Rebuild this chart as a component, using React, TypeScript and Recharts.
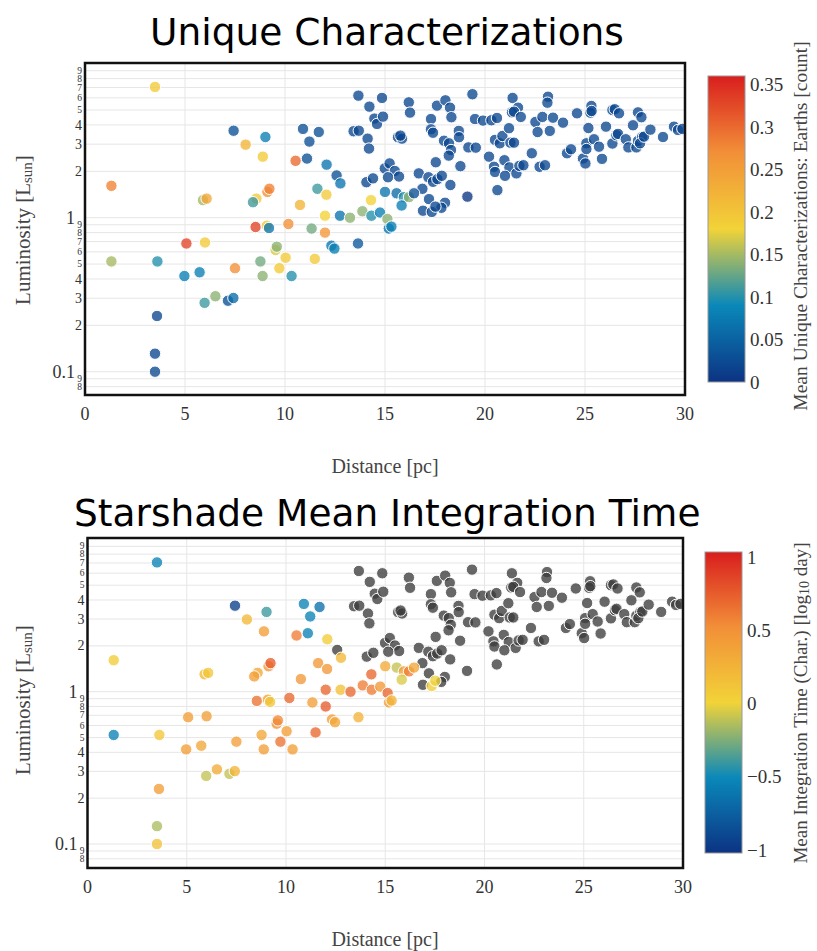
import React from 'react';
import { CartesianGrid, Scatter, ScatterChart, XAxis, YAxis } from 'recharts';

// Stars with a characterization result: distance [pc], luminosity [L_sun],
// mean unique characterizations [count], mean integration time [log10 day].
const charDist = [
  3.5, 1.32, 1.32, 3.62, 3.6, 3.5, 3.5, 4.97, 5.73, 5.07,
  6.0, 5.9, 6.08, 5.98, 6.52, 7.15, 7.42, 7.43, 7.5, 8.03,
  9.02, 8.89, 8.57, 8.4, 9.12, 9.22, 8.53, 9.09, 9.2, 8.77,
  8.88, 9.53, 9.59, 10.03, 9.72, 10.33, 10.17, 10.53, 10.75, 10.9,
  11.22, 11.69, 11.1, 11.33, 11.49, 12.0, 12.0, 11.62, 12.07, 12.08,
  12.77, 12.32, 12.47, 12.75, 13.25, 13.65, 13.87, 14.3, 14.32, 14.75,
  15.0, 15.58, 15.94, 16.2, 16.45, 15.83, 15.12, 15.19, 15.32, 17.34,
  17.52,
];
const charLum = [
  7.06, 1.61, 0.52, 0.52, 0.23, 0.131, 0.1, 0.418, 0.442, 0.68,
  0.69, 1.3, 1.33, 0.28, 0.309, 0.289, 0.301, 3.67, 0.47, 2.98,
  3.34, 2.49, 1.33, 1.26, 1.47, 1.54, 0.87, 0.887, 0.857, 0.52,
  0.418, 0.617, 0.648, 0.55, 0.47, 0.418, 0.91, 2.34, 1.21, 3.77,
  3.12, 3.6, 2.42, 0.85, 0.54, 0.8, 1.03, 1.54, 1.41, 2.21,
  1.67, 0.658, 0.63, 1.03, 1.0, 0.68, 1.1, 1.3, 1.03, 1.08,
  1.47, 1.44, 1.36, 1.36, 1.44, 1.2, 0.98, 0.85, 0.875, 1.09,
  1.18,
];
const charUnique = [
  0.19, 0.28, 0.15, 0.1, 0.02, 0.02, 0.02, 0.08, 0.08, 0.33,
  0.19, 0.15, 0.24, 0.11, 0.14, 0.03, 0.06, 0.03, 0.27, 0.22,
  0.08, 0.19, 0.19, 0.11, 0.27, 0.28, 0.33, 0.19, 0.07, 0.13,
  0.14, 0.17, 0.14, 0.19, 0.19, 0.1, 0.27, 0.3, 0.22, 0.03,
  0.03, 0.03, 0.03, 0.13, 0.19, 0.26, 0.18, 0.11, 0.19, 0.07,
  0.07, 0.07, 0.08, 0.07, 0.14, 0.04, 0.14, 0.18, 0.1, 0.08,
  0.07, 0.06, 0.1, 0.14, 0.03, 0.08, 0.14, 0.07, 0.08, 0.02,
  0.02,
];
const charTime = [
  -0.55, 0.05, -0.55, 0.1, 0.4, -0.15, 0.15, 0.4, 0.35, 0.4,
  0.4, 0.2, 0.1, -0.1, 0.3, -0.1, 0.25, -0.95, 0.4, 0.2,
  -0.4, 0.4, 0.35, 0.4, 0.45, 0.75, 0.65, 0.35, 0.1, 0.35,
  0.4, 0.5, 0.55, 0.4, 0.65, 0.4, 0.7, 0.6, 0.45, -0.55,
  -0.55, -0.65, -0.55, 0.4, 0.7, 0.75, 0.7, 0.45, 0.45, 0.05,
  0.2, 0.4, 0.35, 0.15, 0.7, 0.25, 0.6, 0.7, 0.6, 0.45,
  0.3, -0.1, 0.4, 0.6, 0.35, -0.05, 0.7, 0.4, 0.25, 0.05,
  0.0,
];

// Stars never characterized (no integration time).
const otherDist = [
  12.58, 13.67, 14.22, 14.47, 14.6, 13.43, 13.69, 14.13, 14.2, 14.07,
  14.4, 14.85, 14.9, 15.65, 15.85, 15.77, 16.19, 16.25, 17.3, 17.6,
  18.02, 18.25, 18.32, 17.3, 17.4, 17.95, 18.2, 18.3, 18.19, 18.69,
  18.7, 19.37, 19.5, 19.9, 20.32, 20.6, 19.17, 19.54, 19.12, 18.77,
  17.54, 16.69, 17.17, 17.4, 17.62, 17.84, 18.27, 16.87, 17.2, 16.9,
  18.0, 17.82, 14.99, 15.23, 15.49, 15.7, 15.15, 20.2, 20.5, 20.74,
  20.87, 21.2, 21.27, 21.45, 20.45, 20.5, 20.97, 21.22, 21.0, 21.57,
  21.72, 21.92, 20.62, 21.38, 21.65, 21.35, 21.45, 21.79, 22.52, 22.87,
  23.4, 23.9, 23.15, 23.12, 22.63, 23.24, 22.34, 22.73, 23.0, 24.6,
  25.32, 25.27, 25.33, 25.17, 24.1, 24.3, 24.9, 25.02, 25.07, 25.07,
  25.45, 25.7, 25.85, 26.05, 26.37, 26.57, 26.65, 26.37, 26.49, 26.7,
  27.04, 27.17, 27.57, 27.65, 27.85, 27.75, 27.4, 27.95, 27.65, 27.82,
  28.27, 28.9, 29.45, 29.65, 29.87,
];
const otherLum = [
  1.88, 6.2, 5.26, 4.4, 4.06, 3.64, 3.67, 3.26, 2.81, 1.7,
  1.8, 5.99, 4.53, 3.33, 3.26, 3.41, 5.61, 4.81, 4.37, 5.34,
  5.78, 5.18, 4.49, 3.75, 3.56, 3.16, 3.04, 2.75, 2.53, 3.66,
  3.33, 6.33, 4.37, 4.27, 4.29, 4.44, 2.86, 2.85, 1.37, 2.16,
  2.29, 1.94, 1.83, 1.71, 1.78, 1.87, 1.63, 1.54, 1.32, 1.11,
  1.25, 1.16, 2.09, 2.25, 2.01, 1.85, 1.83, 2.49, 3.2, 3.04,
  3.39, 3.81, 3.07, 3.07, 2.14, 1.98, 2.36, 2.12, 1.87, 1.94,
  2.17, 2.19, 1.51, 5.99, 5.18, 4.83, 4.88, 4.51, 4.18, 4.51,
  4.46, 4.14, 6.1, 5.58, 3.6, 3.66, 2.62, 2.14, 2.19, 4.76,
  5.31, 4.81, 4.93, 3.82, 2.62, 2.78, 2.42, 2.25, 3.04, 2.79,
  3.23, 2.89, 2.41, 3.9, 3.03, 3.43, 3.5, 5.0, 5.06, 4.76,
  3.23, 2.86, 2.86, 3.15, 3.33, 3.04, 3.98, 3.36, 4.83, 4.49,
  3.73, 3.34, 3.9, 3.71, 3.77,
];
const otherUnique = [
  0.03, 0.02, 0.02, 0.02, 0.02, 0.02, 0.02, 0.02, 0.02, 0.02,
  0.02, 0.02, 0.02, 0.02, 0.02, 0.02, 0.02, 0.02, 0.02, 0.02,
  0.02, 0.02, 0.02, 0.02, 0.02, 0.02, 0.02, 0.02, 0.02, 0.02,
  0.02, 0.02, 0.02, 0.02, 0.02, 0.02, 0.02, 0.02, 0.0, 0.02,
  0.02, 0.02, 0.02, 0.02, 0.02, 0.02, 0.02, 0.02, 0.02, 0.02,
  0.02, 0.02, 0.02, 0.02, 0.02, 0.02, 0.02, 0.02, 0.02, 0.02,
  0.02, 0.02, 0.02, 0.02, 0.02, 0.02, 0.02, 0.02, 0.02, 0.02,
  0.02, 0.02, 0.02, 0.02, 0.02, 0.02, 0.02, 0.02, 0.02, 0.02,
  0.02, 0.02, 0.02, 0.02, 0.02, 0.02, 0.02, 0.02, 0.02, 0.02,
  0.02, 0.02, 0.02, 0.02, 0.02, 0.02, 0.02, 0.02, 0.02, 0.02,
  0.02, 0.02, 0.02, 0.02, 0.02, 0.02, 0.02, 0.02, 0.02, 0.02,
  0.02, 0.02, 0.02, 0.02, 0.02, 0.02, 0.02, 0.02, 0.02, 0.02,
  0.02, 0.02, 0.02, 0.02, 0.02,
];

const X_TICKS = [0, 5, 10, 15, 20, 25, 30];
const Y_TICKS = [
  0.08, 0.09, 0.1, 0.2, 0.3, 0.4, 0.5, 0.6, 0.7, 0.8, 0.9,
  1, 2, 3, 4, 5, 6, 7, 8, 9,
];
const UNIQUE_TICKS = [0, 0.05, 0.1, 0.15, 0.2, 0.25, 0.3, 0.35];
const TIME_TICKS = [-1, -0.5, 0, 0.5, 1];

const PORTLAND: [number, string][] = [
  [0, '#0c3383'],
  [0.25, '#0a88ba'],
  [0.5, '#f2d338'],
  [0.75, '#f28f38'],
  [1, '#d91e1e'],
];

const SERIF = '"Liberation Serif", "Times New Roman", serif';
const SANS = '"DejaVu Sans", Verdana, sans-serif';
const PAGE_W = 817;
const Y_AXIS_W = 60;
const X_AXIS_H = 40;

type Star = { dist: number; lum: number; value: number | null };

function rgb(hex: string) {
  const n = parseInt(hex.slice(1), 16);
  return [(n >> 16) & 255, (n >> 8) & 255, n & 255];
}

function portland(t: number) {
  const c = Math.max(0, Math.min(1, t));
  for (let i = 1; i < PORTLAND.length; i++) {
    const [t1, h1] = PORTLAND[i];
    if (c <= t1) {
      const [t0, h0] = PORTLAND[i - 1];
      const f = (c - t0) / (t1 - t0);
      const a = rgb(h0);
      const b = rgb(h1);
      return `rgb(${a.map((v, k) => Math.round(v + (b[k] - v) * f)).join(',')})`;
    }
  }
  return PORTLAND[PORTLAND.length - 1][1];
}

const charUniqueStars: Star[] = charDist.map((d, i) => ({ dist: d, lum: charLum[i], value: charUnique[i] }));
const otherUniqueStars: Star[] = otherDist.map((d, i) => ({ dist: d, lum: otherLum[i], value: otherUnique[i] }));
const charTimeStars: Star[] = charDist.map((d, i) => ({ dist: d, lum: charLum[i], value: charTime[i] }));
const otherTimeStars: Star[] = otherDist.map((d, i) => ({ dist: d, lum: otherLum[i], value: null }));

interface PanelProps {
  top: number;
  title: string;
  titleY: number;
  plot: { left: number; top: number; right: number; bottom: number };
  yDomain: [number, number];
  lumLabelY: number;
  series: Star[][];
  cbar: { x: number; top: number; bottom: number; min: number; max: number; ticks: number[] };
  cbarTitleY: number;
  cbarTitleSize: number;
  cbarTitle: React.ReactNode;
  id: string;
}

function tickText(v: number) {
  const e = Math.floor(Math.log10(v) + 1e-9);
  const lead = Math.round(v / Math.pow(10, e));
  return { lead, major: lead === 1 };
}

function Panel({
  top, title, titleY, plot, yDomain, lumLabelY, series, cbar, cbarTitleY, cbarTitleSize, cbarTitle, id,
}: PanelProps) {
  const height = plot.bottom + 90;
  const cmin = cbar.min;
  const cmax = cbar.max;
  const cy = (v: number) => cbar.bottom - ((v - cmin) / (cmax - cmin)) * (cbar.bottom - cbar.top);

  const renderDot = (props: any) => {
    const { cx, cy: py, payload } = props;
    if (cx == null || py == null) return <g />;
    const fill = payload.value == null ? '#3c3c3c' : portland((payload.value - cmin) / (cmax - cmin));
    return <circle cx={cx} cy={py} r={5.7} fill={fill} fillOpacity={0.78} stroke="#ffffff" strokeWidth={1} />;
  };

  const renderYTick = (props: any) => {
    const { y, payload } = props;
    const { lead, major } = tickText(payload.value);
    if (major) {
      return (
        <text x={plot.left - 10} y={y} dy="0.35em" textAnchor="end" fontFamily={SERIF} fontSize={18} fill="#333">
          {payload.value < 1 ? '0.1' : '1'}
        </text>
      );
    }
    const size = lead <= 4 ? 14 : 9.5;
    return (
      <text x={plot.left - 3} y={y} dy="0.33em" textAnchor="end" fontFamily={SERIF} fontSize={size} fill="#333">
        {lead}
      </text>
    );
  };

  const renderXTick = (props: any) => {
    const { x, payload } = props;
    return (
      <text x={x} y={plot.bottom + 19} dy="0.35em" textAnchor="middle" fontFamily={SERIF} fontSize={18} fill="#333">
        {payload.value}
      </text>
    );
  };

  return (
    <div style={{ position: 'absolute', left: 0, top, width: PAGE_W, height }}>
      <ScatterChart
        width={PAGE_W}
        height={height}
        margin={{ top: plot.top, right: PAGE_W - plot.right, bottom: height - plot.bottom - X_AXIS_H, left: plot.left - Y_AXIS_W }}
      >
        <CartesianGrid stroke="#e6e6e6" strokeWidth={1} />
        <XAxis
          type="number"
          dataKey="dist"
          domain={[0, 30]}
          ticks={X_TICKS}
          allowDataOverflow
          tickLine={false}
          axisLine={false}
          height={X_AXIS_H}
          tick={renderXTick}
        />
        <YAxis
          type="number"
          dataKey="lum"
          scale="log"
          domain={yDomain}
          ticks={Y_TICKS}
          allowDataOverflow
          tickLine={false}
          axisLine={false}
          width={Y_AXIS_W}
          interval={0}
          tick={renderYTick}
        />
        {series.map((data, i) => (
          <Scatter key={i} data={data} shape={renderDot} isAnimationActive={false} />
        ))}
      </ScatterChart>

      <svg width={PAGE_W} height={height} style={{ position: 'absolute', left: 0, top: 0, pointerEvents: 'none' }}>
        <defs>
          <linearGradient id={`grad-${id}`} x1="0" y1="1" x2="0" y2="0">
            {PORTLAND.map(([t, c]) => (
              <stop key={t} offset={t} stopColor={c} />
            ))}
          </linearGradient>
        </defs>
        <text x={(plot.left + plot.right) / 2 + 2} y={titleY} textAnchor="middle" fontFamily={SANS} fontSize={37.5} fill="#000">
          {title}
        </text>
        <rect
          x={plot.left}
          y={plot.top}
          width={plot.right - plot.left}
          height={plot.bottom - plot.top}
          fill="none"
          stroke="#111"
          strokeWidth={2.5}
        />
        <text
          transform={`translate(23, ${lumLabelY}) rotate(-90)`}
          textAnchor="middle"
          dominantBaseline="central"
          fontFamily={SERIF}
          fontSize={21}
          fill="#444"
        >
          Luminosity [L
          <tspan dy={4} fontSize={15}>sun</tspan>
          <tspan dy={-4}>]</tspan>
        </text>
        <text x={385} y={plot.bottom + 71} textAnchor="middle" dominantBaseline="central" fontFamily={SERIF} fontSize={20} fill="#444">
          Distance [pc]
        </text>

        <rect
          x={cbar.x}
          y={cbar.top}
          width={37}
          height={cbar.bottom - cbar.top}
          fill={`url(#grad-${id})`}
          stroke="#999"
          strokeWidth={1}
        />
        {cbar.ticks.map((v) => (
          <text key={v} x={cbar.x + 42} y={cy(v)} dy="0.35em" fontFamily={SERIF} fontSize={19} fill="#333">
            {v < 0 ? `\u2212${Math.abs(v)}` : v}
          </text>
        ))}
        <text
          transform={`translate(800, ${cbarTitleY}) rotate(-90)`}
          textAnchor="middle"
          dominantBaseline="central"
          fontFamily={SERIF}
          fontSize={cbarTitleSize}
          fill="#444"
        >
          {cbarTitle}
        </text>
      </svg>
    </div>
  );
}

export default function App() {
  return (
    <div style={{ position: 'absolute', left: 0, top: 0, width: PAGE_W, height: 951, background: '#fff', overflow: 'hidden' }}>
      <Panel
        id="unique"
        top={0}
        title="Unique Characterizations"
        titleY={45}
        plot={{ left: 85, top: 63, right: 685, bottom: 395 }}
        yDomain={[0.0706, 10.1]}
        lumLabelY={230}
        series={[otherUniqueStars, charUniqueStars]}
        cbar={{ x: 708, top: 76, bottom: 382, min: 0, max: 0.36, ticks: UNIQUE_TICKS }}
        cbarTitleY={226}
        cbarTitleSize={19.5}
        cbarTitle="Mean Unique Characterizations: Earths [count]"
      />
      <Panel
        id="time"
        top={475}
        title="Starshade Mean Integration Time"
        titleY={51}
        plot={{ left: 87.5, top: 63, right: 683, bottom: 393 }}
        yDomain={[0.0696, 10.21]}
        lumLabelY={225}
        series={[otherTimeStars, charTimeStars]}
        cbar={{ x: 705, top: 77, bottom: 378, min: -1.02, max: 1.034, ticks: TIME_TICKS }}
        cbarTitleY={228}
        cbarTitleSize={19}
        cbarTitle={
          <>
            Mean Integration Time (Char.) [log
            <tspan dy={4} fontSize={14}>10</tspan>
            <tspan dy={-4}> day]</tspan>
          </>
        }
      />
    </div>
  );
}
